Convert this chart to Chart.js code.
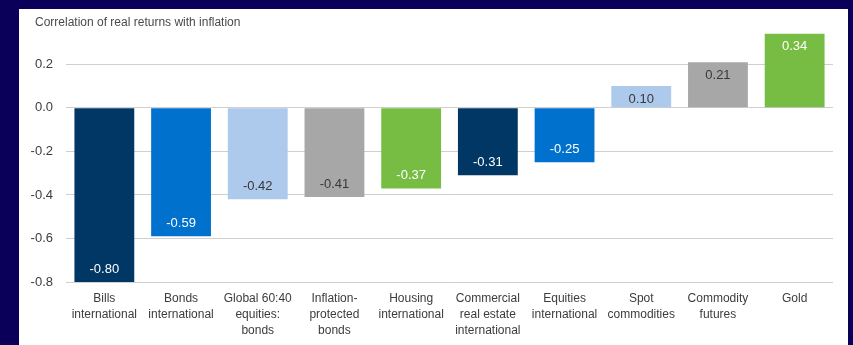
<!DOCTYPE html>
<html>
<head>
<meta charset="utf-8">
<script src="https://cdn.jsdelivr.net/npm/chart.js@4"></script>
<style>
  html, body { margin: 0; padding: 0; background: #0a0059; }
  #wrap { position: relative; width: 853px; height: 345px; }
  canvas { display: block; }
</style>
</head>
<body>
<div id="wrap"><canvas id="chart" width="853" height="345"></canvas></div>
<script>
// Correlation of real returns with inflation, by asset class
const categories = [
  ['Bills', 'international'],
  ['Bonds', 'international'],
  ['Global 60:40', 'equities:', 'bonds'],
  ['Inflation-', 'protected', 'bonds'],
  ['Housing', 'international'],
  ['Commercial', 'real estate', 'international'],
  ['Equities', 'international'],
  ['Spot', 'commodities'],
  ['Commodity', 'futures'],
  ['Gold']
];
const correlations = [-0.80, -0.59, -0.42, -0.41, -0.37, -0.31, -0.25, 0.10, 0.21, 0.34];
const yTicks = [-0.8, -0.6, -0.4, -0.2, 0.0, 0.2];

const NAVY = '#003764', BLUE = '#0072ce', LIGHT = '#adc9eb', GREY = '#a7a7a7', GREEN = '#77bd43';
const barColors = [NAVY, BLUE, LIGHT, GREY, GREEN, NAVY, BLUE, LIGHT, GREY, GREEN];
const labelColors = barColors.map(c => (c === LIGHT || c === GREY) ? '#383838' : '#ffffff');

const FONT = '"Liberation Sans", Arial, Helvetica, sans-serif';
const TEXT = '#3c3c3c';

// White panel behind the chart and the heading text
const panel = {
  id: 'panel',
  beforeDraw(chart) {
    const ctx = chart.ctx;
    ctx.save();
    ctx.fillStyle = '#ffffff';
    ctx.fillRect(19, 9, 829, 345);
    ctx.fillStyle = '#4a4a4a';
    ctx.font = '12px ' + FONT;
    ctx.textBaseline = 'middle';
    ctx.textAlign = 'left';
    ctx.fillText('Correlation of real returns with inflation', 35, 23);
    ctx.restore();
  }
};

// Value printed inside each bar, near its end
const valueLabels = {
  id: 'valueLabels',
  afterDatasetsDraw(chart) {
    const ctx = chart.ctx;
    const meta = chart.getDatasetMeta(0);
    ctx.save();
    ctx.font = '13px ' + FONT;
    ctx.textAlign = 'center';
    ctx.textBaseline = 'middle';
    meta.data.forEach((bar, i) => {
      const v = correlations[i];
      const y = v >= 0 ? bar.y + 13 : bar.y - 13;
      ctx.fillStyle = labelColors[i];
      ctx.fillText(v.toFixed(2), bar.x, y);
    });
    ctx.restore();
  }
};

new Chart(document.getElementById('chart'), {
  type: 'bar',
  data: {
    labels: categories,
    datasets: [{
      data: correlations,
      backgroundColor: barColors,
      borderWidth: 0,
      categoryPercentage: 1,
      barPercentage: 0.78
    }]
  },
  options: {
    responsive: false,
    animation: false,
    layout: { padding: { top: 18, right: 20, left: 0, bottom: 0 } },
    plugins: { legend: { display: false }, tooltip: { enabled: false } },
    scales: {
      x: {
        grid: { display: false, drawTicks: false },
        border: { display: false },
        ticks: {
          color: TEXT,
          font: { family: FONT, size: 12, lineHeight: 1.33 },
          padding: 9,
          maxRotation: 0,
          autoSkip: false
        },
        afterFit(scale) { scale.height = 63; }
      },
      y: {
        min: -0.8,
        max: 0.4,
        afterBuildTicks(scale) { scale.ticks = yTicks.map(v => ({ value: v })); },
        afterFit(scale) { scale.width = 66; },
        grid: { color: '#cfcfcf', lineWidth: 1, drawTicks: false },
        border: { display: false },
        ticks: {
          color: TEXT,
          font: { family: FONT, size: 13 },
          padding: 13,
          callback: v => v.toFixed(1)
        }
      }
    }
  },
  plugins: [panel, valueLabels]
});
</script>
</body>
</html>
